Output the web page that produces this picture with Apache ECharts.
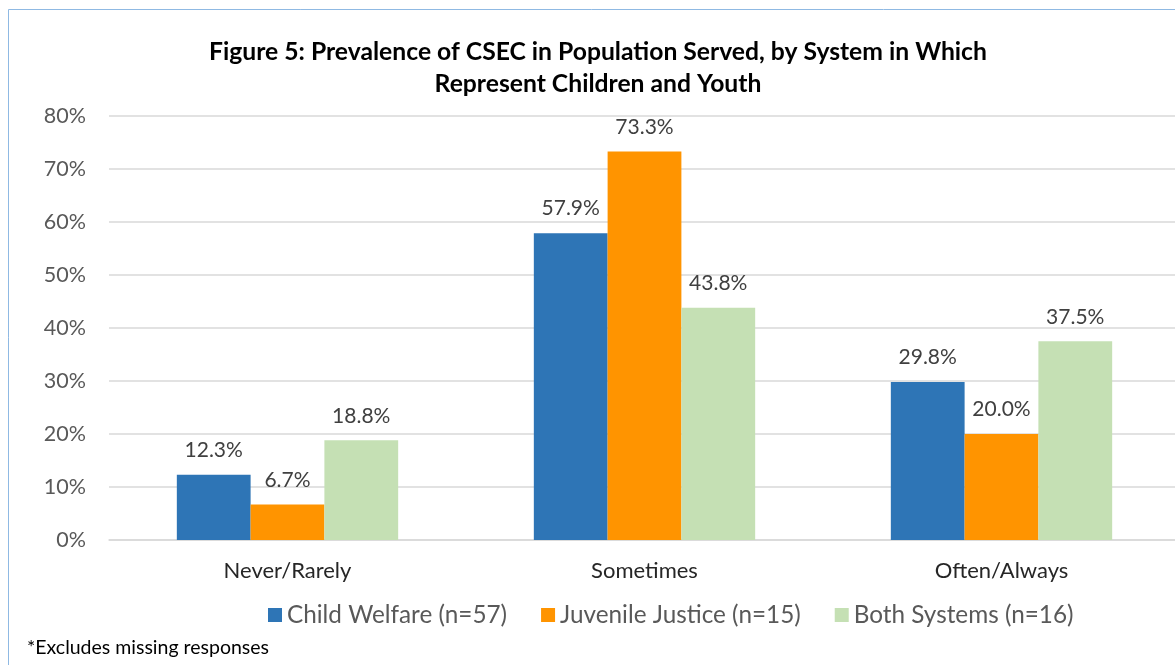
<!DOCTYPE html>
<html><head><meta charset="utf-8">
<script src="https://cdn.jsdelivr.net/npm/echarts@6/dist/echarts.min.js"></script>
<style>html,body{margin:0;padding:0;background:#fff}#c{width:1175px;height:665px}</style>
</head><body><div id="c"></div>
<script>
const categories = ["Never/Rarely", "Sometimes", "Often/Always"];
const childWelfare = [12.3, 57.9, 29.8];
const juvenileJustice = [6.7, 73.3, 20.0];
const bothSystems = [18.8, 43.8, 37.5];
const seriesNames = ["Child Welfare (n=57)", "Juvenile Justice (n=15)", "Both Systems (n=16)"];
const yTicks = [0, 10, 20, 30, 40, 50, 60, 70, 80];

const chart = echarts.init(document.getElementById('c'));
const font = "Lato, 'Open Sans', sans-serif";
const lbl = {show: true, position: 'top', distance: 14, color: '#404040', fontSize: 21, fontFamily: font,
  formatter: p => p.value.toFixed(1) + '%'};
chart.setOption({
  animation: false,
  title: {
    text: "Figure 5: Prevalence of CSEC in Population Served, by System in Which\nRepresent Children and Youth",
    left: 593, top: 31, textAlign: 'center',
    textStyle: {fontFamily: font, fontWeight: 'bold', fontSize: 24.7, color: '#000', lineHeight: 32}
  },
  graphic: [
    {type: 'line', shape: {x1: 8.5, y1: 9.5, x2: 1175, y2: 9.5}, style: {stroke: '#8FB9E3', lineWidth: 1}},
    {type: 'line', shape: {x1: 8.5, y1: 9.5, x2: 8.5, y2: 665}, style: {stroke: '#8FB9E3', lineWidth: 1}},
    {type: 'text', left: 27, top: 638, style: {text: '*Excludes missing responses', fontFamily: font, fontSize: 19.5, fill: '#000'}}
  ],
  legend: {
    data: seriesNames, top: 598, left: 263, itemWidth: 14, itemHeight: 14, itemGap: 34,
    icon: 'rect',
    textStyle: {fontFamily: font, fontSize: 24.3, color: '#595959'}
  },
  grid: {left: 109, width: 1071, top: 116, bottom: 125, containLabel: false, outerBoundsMode: 'none'},
  xAxis: {
    type: 'category', data: categories,
    axisLine: {lineStyle: {color: '#D9D9D9', width: 1.5}}, axisTick: {show: false},
    axisLabel: {fontFamily: font, fontSize: 22, color: '#262626', margin: 20}
  },
  yAxis: {
    type: 'value', min: 0, max: 80, interval: 10,
    axisLabel: {fontFamily: font, fontSize: 21.5, color: '#595959', margin: 23, formatter: v => v + '%'},
    splitLine: {lineStyle: {color: '#D9D9D9', width: 1.5}},
    axisLine: {show: false}, axisTick: {show: false}
  },
  series: [
    {name: seriesNames[0], type: 'bar', data: childWelfare, itemStyle: {color: '#2E75B6'}, barGap: '0%', barCategoryGap: '38%', label: lbl},
    {name: seriesNames[1], type: 'bar', data: juvenileJustice, itemStyle: {color: '#FF9400'}, label: lbl},
    {name: seriesNames[2], type: 'bar', data: bothSystems, itemStyle: {color: '#C5E0B4'}, label: lbl}
  ]
});
</script></body></html>
